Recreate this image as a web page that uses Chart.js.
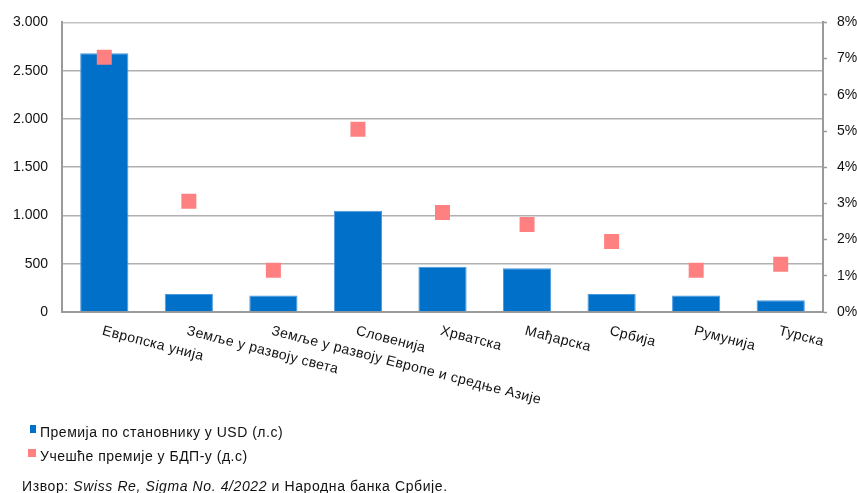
<!DOCTYPE html>
<html>
<head>
<meta charset="utf-8">
<script src="https://cdn.jsdelivr.net/npm/chart.js@4"></script>
<style>
  html, body { margin: 0; padding: 0; background: #fff; }
  #wrap { position: relative; width: 857px; height: 493px; overflow: hidden; font-family: "Liberation Sans", Arial, sans-serif; }
  #c { position: absolute; left: 0; top: 0; }
  .leg { position: absolute; left: 40px; font-size: 14px; color: #111; white-space: nowrap; line-height: 16px; letter-spacing: 0.5px; }
  .sw { position: absolute; }
  #src { position: absolute; left: 22px; top: 478px; font-size: 14px; color: #111; white-space: nowrap; line-height: 16px; letter-spacing: 0.6px; }
</style>
</head>
<body>
<div id="wrap">
  <canvas id="c" width="857" height="493"></canvas>
  <div class="sw" style="left:30px;top:425px;width:6px;height:8px;background:#0070c9"></div>
  <div class="leg" id="leg1" style="top:424px">Премија по становнику у USD (л.с)</div>
  <div class="sw" style="left:28px;top:449px;width:8px;height:8px;background:#ff8080"></div>
  <div class="leg" id="leg2" style="top:448px">Учешће премије у БДП-у (д.с)</div>
  <div id="src">Извор: <i>Swiss Re, Sigma No. 4/2022</i> и Народна банка Србије.</div>
</div>
<script>
const categories = ["Европска унија", "Земље у развоју света", "Земље у развоју Европе и средње Азије", "Словенија", "Хрватска", "Мађарска", "Србија", "Румунија", "Турска"];
const premiumPerCapitaUSD = [2680, 187, 170, 1048, 470, 453, 187, 170, 122];
const premiumShareGDP = [7.04, 3.06, 1.15, 5.05, 2.75, 2.42, 1.95, 1.15, 1.32];
const leftTicks = [0, 500, 1000, 1500, 2000, 2500, 3000];
const rightTicks = [0, 1, 2, 3, 4, 5, 6, 7, 8];
const seriesNames = ["Премија по становнику у USD (л.с)", "Учешће премије у БДП-у (д.с)"];

function fmtThousands(v) {
  if (v >= 1000) return Math.floor(v / 1000) + "." + String(v % 1000).padStart(3, "0");
  return String(v);
}

const FONT = "Liberation Sans, Arial, sans-serif";

const xLabelPlugin = {
  id: "xLabels",
  afterDraw(chart) {
    const ctx = chart.ctx;
    const xs = chart.scales.x;
    const y0 = chart.chartArea.bottom + 12;
    ctx.save();
    ctx.font = "14px " + FONT;
    ctx.fillStyle = "#111";
    ctx.textAlign = "left";
    ctx.textBaseline = "top";
    try { ctx.letterSpacing = "0.4px"; } catch (e) {}
    categories.forEach((lab, i) => {
      const x = xs.getPixelForValue(i);
      ctx.save();
      ctx.translate(x, y0);
      ctx.rotate(14.5 * Math.PI / 180);
      ctx.fillText(lab, 0, 0);
      ctx.restore();
    });
    ctx.restore();
  }
};

new Chart(document.getElementById("c"), {
  data: {
    labels: categories,
    datasets: [
      {
        type: "line",
        label: seriesNames[1],
        data: premiumShareGDP,
        yAxisID: "y1",
        showLine: false,
        pointStyle: "rect",
        pointRadius: 10.6,
        pointHoverRadius: 10.6,
        pointBackgroundColor: "#ff8080",
        pointBorderWidth: 0,
        borderColor: "#ff8080",
        order: 0
      },
      {
        type: "bar",
        label: seriesNames[0],
        data: premiumPerCapitaUSD,
        yAxisID: "y",
        backgroundColor: "#0070c9",
        borderColor: "#4a98de",
        borderWidth: 1,
        barPercentage: 0.57,
        categoryPercentage: 1,
        order: 1
      }
    ]
  },
  options: {
    responsive: false,
    animation: false,
    events: [],
    layout: { padding: { top: 22, bottom: 181, left: 0, right: 0 } },
    plugins: { legend: { display: false }, tooltip: { enabled: false } },
    scales: {
      x: {
        offset: true,
        grid: { display: false, drawTicks: false },
        ticks: { display: false },
        border: { display: true, color: "#9a9a9a", width: 2 },
        afterFit(s) { s.height = 0; }
      },
      y: {
        position: "left",
        min: 0,
        max: 3000,
        afterBuildTicks(s) { s.ticks = leftTicks.map(v => ({ value: v })); },
        grid: {
          color: (c) => c.tick && c.tick.value === 3000 ? "#c4c4c4" : "#b0b0b0",
          lineWidth: 1.5,
          drawTicks: false
        },
        border: { display: true, color: "#9a9a9a", width: 2 },
        ticks: {
          padding: 14,
          color: "#111",
          font: { family: FONT, size: 14 },
          callback: (v) => fmtThousands(v)
        },
        afterFit(s) { s.width = 62; }
      },
      y1: {
        position: "right",
        min: 0,
        max: 8,
        afterBuildTicks(s) { s.ticks = rightTicks.map(v => ({ value: v })); },
        grid: { drawOnChartArea: false, drawTicks: true, tickLength: 4, tickColor: "#9a9a9a", tickWidth: 1.5 },
        border: { display: true, color: "#9a9a9a", width: 2 },
        ticks: {
          padding: 10,
          color: "#111",
          font: { family: FONT, size: 14 },
          callback: (v) => v + "%"
        },
        afterFit(s) { s.width = 34; }
      }
    }
  },
  plugins: [xLabelPlugin]
});
</script>
</body>
</html>
